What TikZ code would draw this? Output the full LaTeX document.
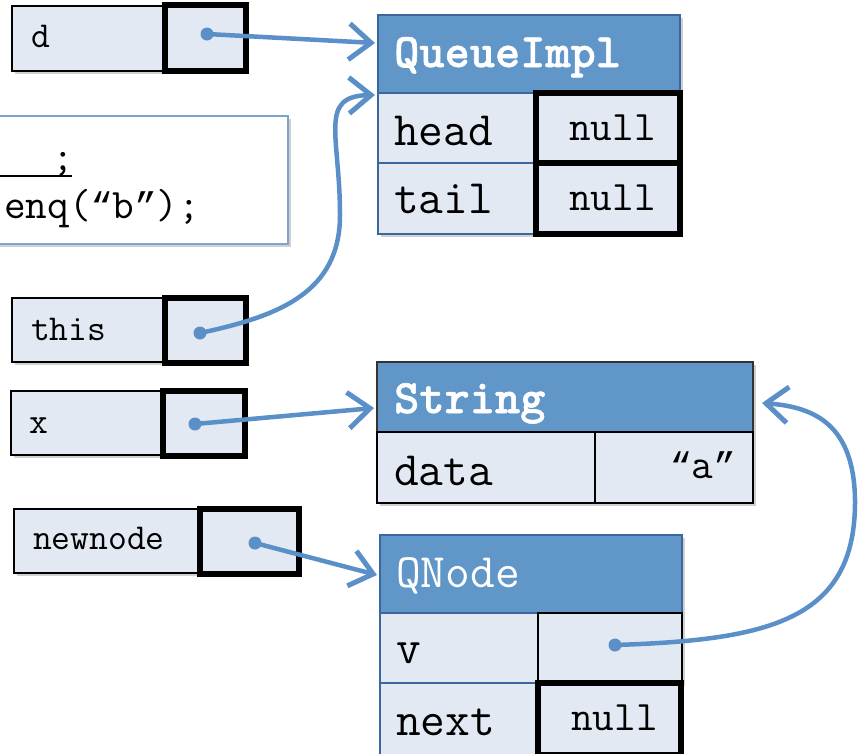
\documentclass[tikz,border=0pt]{standalone}
\usepackage{fontspec}
\newfontfamily\lmbold{lmmonolt10-bold.otf}[FakeBold=1.2]
\newfontfamily\qfont{Liberation Mono}
\usetikzlibrary{arrows.meta,shadows}
\definecolor{hdr}{RGB}{97,150,201}
\definecolor{lite}{RGB}{226,233,243}
\definecolor{bluebd}{RGB}{58,104,158}
\definecolor{arr}{RGB}{91,143,199}
\definecolor{codebd}{RGB}{125,163,207}
\newcommand{\fsBig}{\ttfamily\fontsize{48}{54}\selectfont}
\newcommand{\fsBold}{\lmbold\fontsize{48}{54}\selectfont}
\newcommand{\fsMid}{\ttfamily\fontsize{42}{48}\selectfont}
\newcommand{\fsSmall}{\ttfamily\fontsize{36.5}{42}\selectfont}
\newcommand{\qOpen}{{\qfont\fontsize{37}{42}\selectfont “}}
\newcommand{\qClose}{{\qfont\fontsize{37}{42}\selectfont ”}}
\begin{document}
\begin{tikzpicture}[x=1pt,y=-1pt,
  cellbase/.style={rectangle, anchor=north west, inner sep=0pt, outer sep=0pt, fill=lite},
  thincell/.style={cellbase, draw=black, line width=2pt},
  thickcell/.style={cellbase, draw=black, line width=6.5pt},
  bluecell/.style={cellbase, draw=bluebd, line width=2pt},
  hdrcell/.style={cellbase, fill=hdr, draw=bluebd, line width=2pt},
  shd/.style={drop shadow={shadow xshift=2.5pt, shadow yshift=-2.5pt, opacity=0.3, fill=black!60}},
  lbl/.style={anchor=base west, inner sep=0pt},
  lblr/.style={anchor=base east, inner sep=0pt},
  ptdot/.style={circle, fill=arr, inner sep=0pt, minimum size=13pt},
  ptr/.style={draw=arr, line width=4.5pt, line cap=round, -{Straight Barb[length=22pt,width=36pt,line width=5pt]}},
]
\clip (0,0) rectangle (859,753);
\fill[white] (0,0) rectangle (859,753);

% code box
\node[cellbase, fill=white, draw=codebd, line width=1.5pt, minimum width=300pt, minimum height=128pt, shd] (code) at (-12,116) {};
\draw[line width=2pt] (0,176) -- (72,176);
\node[lbl] (semi) at (52,170) {\fsMid ;};
\node[lbl] (enq) at (4,218) {\fsMid enq(\qOpen b\qClose);};

% d
\node[thincell, minimum width=153pt, minimum height=65pt, shd] (dL) at (12,6) {};
\node[thickcell, minimum width=81pt, minimum height=66pt] (dR) at (165,5) {};
\node[lbl] (dT) at (31,47) {\fsSmall d};
\node[ptdot] (ddot) at (207,34) {};

% this
\node[thincell, minimum width=153pt, minimum height=64pt, shd] (tL) at (12,298) {};
\node[thickcell, minimum width=81pt, minimum height=65pt] (tR) at (165,298) {};
\node[lbl] (tT) at (31,340) {\fsSmall this};
\node[ptdot] (tdot) at (200,333) {};

% x
\node[thincell, minimum width=152pt, minimum height=64pt, shd] (xL) at (11,391) {};
\node[thickcell, minimum width=82pt, minimum height=65pt] (xR) at (163,391) {};
\node[lbl] (xT) at (29,433) {\fsSmall x};
\node[ptdot] (xdot) at (195,424) {};

% newnode
\node[thincell, minimum width=186pt, minimum height=64pt, shd] (nL) at (14,509) {};
\node[thickcell, minimum width=99pt, minimum height=65pt] (nR) at (200,509) {};
\node[lbl] (nT) at (33,549) {\fsSmall newnode};
\node[ptdot] (ndot) at (255,543) {};

% QueueImpl
\node[hdrcell, minimum width=302pt, minimum height=78pt, shd] (qih) at (378,15) {};
\node[bluecell, minimum width=158pt, minimum height=70pt, shd] (qhL) at (378,93) {};
\node[bluecell, minimum width=158pt, minimum height=71pt, shd] (qtL) at (378,163) {};
\node[thickcell, minimum width=144pt, minimum height=70pt] (qhR) at (536,93) {};
\node[thickcell, minimum width=144pt, minimum height=71pt] (qtR) at (536,163) {};
\node[lbl, text=white] (qiT) at (394,67) {\fsBold QueueImpl};
\node[lbl] (qhT) at (394,145) {\fsBig head};
\node[lbl] (qtT) at (394,213) {\fsBig tail};
\node[lbl] (qhN) at (569,140) {\fsMid null};
\node[lbl] (qtN) at (569,210) {\fsMid null};

% String
\node[cellbase, fill=hdr, draw=black!80, line width=2pt, minimum width=376pt, minimum height=70pt, shd] (strh) at (377,362) {};
\node[thincell, minimum width=218pt, minimum height=71pt, shd] (sdL) at (377,432) {};
\node[thincell, minimum width=158pt, minimum height=71pt, shd] (sdR) at (595,432) {};
\node[lbl, text=white] (sT) at (394,413) {\fsBold String};
\node[lbl] (sdT) at (394,485) {\fsBig data};
\node[lblr] (sdV) at (736,478) {\fsMid \qOpen a\qClose};

% QNode
\node[hdrcell, minimum width=302pt, minimum height=78pt, shd] (qnh) at (380,535) {};
\node[bluecell, minimum width=158pt, minimum height=70pt, shd] (qvL) at (380,613) {};
\node[thincell, minimum width=144pt, minimum height=70pt, shd] (qvR) at (538,613) {};
\node[bluecell, minimum width=158pt, minimum height=75pt] (qxL) at (380,683) {};
\node[thickcell, minimum width=143pt, minimum height=72pt] (qxR) at (538,683) {};
\node[lbl, text=white] (qnT) at (396,587) {\fsBig QNode};
\node[lbl] (qvT) at (396,663) {\fsBig v};
\node[lbl] (qxT) at (396,735) {\fsBig next};
\node[lbl] (qxN) at (571,730) {\fsMid null};
\node[ptdot] (vdot) at (615,645) {};

% pointers
\draw[ptr] (ddot.center) -- ([xshift=-3pt,yshift=11pt]qih.west);
\draw[ptr] (tdot.center) .. controls (280,316) and (340,292) .. (340,215)
   .. controls (340,135) and (318,96) .. ([xshift=-3pt,yshift=-2pt]qih.south west);
\draw[ptr] (xdot.center) -- ([xshift=-3pt,yshift=-11pt]strh.west);
\draw[ptr] (ndot.center) -- ([xshift=-3pt,yshift=-1pt]qnh.west);
\draw[ptr] (vdot.center) .. controls (770,640) and (856,620) .. (855,500)
   .. controls (854,425) and (815,407) .. ([xshift=9pt,yshift=-6pt]strh.east);
\end{tikzpicture}
\end{document}
